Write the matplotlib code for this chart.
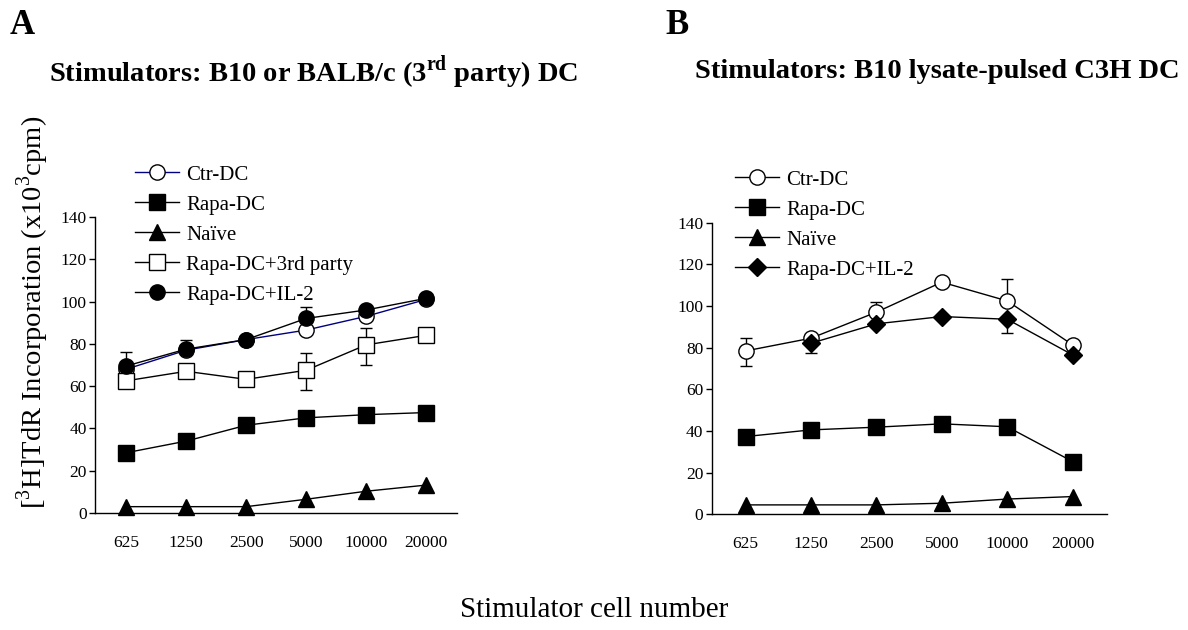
import matplotlib
matplotlib.use('Agg')
import matplotlib.pyplot as plt
import numpy as np

plt.rcParams['font.family'] = ['Liberation Serif', 'DejaVu Serif']
plt.rcParams['mathtext.fontset'] = 'custom'
plt.rcParams['mathtext.rm'] = 'Liberation Serif'
plt.rcParams['mathtext.bf'] = 'Liberation Serif:bold'

cell_numbers = ['625', '1250', '2500', '5000', '10000', '20000']

# panel A: B10 or BALB/c (3rd party) DC
a_ctr = [68, 77, 82, 86.5, 93, 101]
a_rapa = [28.5, 34, 41.5, 45, 46.5, 47.5]
a_naive = [3, 3, 3, 6.5, 10.3, 13.2]
a_third = [62.5, 67, 63.2, 67.5, 79.5, 84]
a_il2 = [69.5, 77.5, 82, 92, 96, 101.5]
# error bars (lower, upper)
a_ctr_err = [[0, 0, 0, 0, 0, 0], [8, 5, 0, 0, 0, 0]]
a_rapa_err = [[0, 0, 0, 3, 0, 0], [0, 0, 0, 0, 0, 0]]
a_third_err = [[0, 0, 0, 9.3, 9.5, 0], [0, 0, 0, 8.3, 8, 0]]
a_il2_err = [[0, 0, 0, 0, 0, 0], [0, 0, 0, 5.6, 0, 0]]

# panel B: B10 lysate-pulsed C3H DC
b_ctr = [78.4, 84.5, 97, 111.4, 102.4, 81.3]
b_rapa = [37.3, 40.5, 41.8, 43.4, 42, 25.3]
b_naive = [4.5, 4.5, 4.5, 5.3, 7.3, 8.5]
b_il2 = [np.nan, 82.1, 91.4, 94.9, 93.6, 76.5]
b_ctr_err = [[7.2, 0, 0, 0, 0, 0], [6.1, 0, 4.8, 0, 10.4, 0]]
b_il2_err = [[0, 4.8, 0, 0, 6.4, 0], [0, 0, 0, 0, 0, 0]]

x = np.arange(len(cell_numbers))

fig = plt.figure(figsize=(11.88, 6.3), dpi=100)
axA = fig.add_axes([0.080, 0.1857, 0.305, 0.470])
axB = fig.add_axes([0.599, 0.1837, 0.3325, 0.4630])

ms = 11
lw = 1.0


def series(ax, y, err, marker, face, label, color='black'):
    if err is not None:
        ax.errorbar(x, y, yerr=err, fmt='none', ecolor='black', elinewidth=lw,
                    capsize=4.5, capthick=lw, zorder=2, clip_on=False)
    ax.plot(x, y, marker=marker, color=color, mfc=face, mec='black', mew=1.0,
            markersize=ms if marker != 'D' else ms * 0.85, linewidth=lw,
            label=label, zorder=3, clip_on=False)


series(axA, a_ctr, a_ctr_err, 'o', 'white', 'Ctr-DC', color='#000080')
series(axA, a_rapa, a_rapa_err, 's', 'black', 'Rapa-DC')
series(axA, a_naive, None, '^', 'black', 'Naïve')
series(axA, a_third, a_third_err, 's', 'white', 'Rapa-DC+3rd party')
series(axA, a_il2, a_il2_err, 'o', 'black', 'Rapa-DC+IL-2')

series(axB, b_ctr, b_ctr_err, 'o', 'white', 'Ctr-DC')
series(axB, b_rapa, None, 's', 'black', 'Rapa-DC')
series(axB, b_naive, None, '^', 'black', 'Naïve')
series(axB, b_il2, b_il2_err, 'D', 'black', 'Rapa-DC+IL-2')

for ax in (axA, axB):
    ax.set_xlim(-0.52, 5.52)
    ax.set_ylim(0, 140)
    ax.set_yticks(np.arange(0, 141, 20))
    ax.set_xticks(x)
    ax.set_xticklabels(cell_numbers)
    ax.spines['top'].set_visible(False)
    ax.spines['right'].set_visible(False)
    ax.spines['left'].set_linewidth(lw)
    ax.spines['bottom'].set_linewidth(lw)
    ax.tick_params(axis='x', length=0, pad=16, labelsize=12.5)
    ax.tick_params(axis='y', length=4, width=lw, pad=2, labelsize=12.5)

legA = axA.legend(loc='upper left', bbox_to_anchor=(135 / 1188, 1 - 165 / 630),
                  bbox_transform=fig.transFigure, frameon=False, fontsize=15,
                  handlelength=2.1, handletextpad=0.35, labelspacing=0.5,
                  borderpad=0, borderaxespad=0)
legB = axB.legend(loc='upper left', bbox_to_anchor=(735 / 1188, 1 - 170 / 630),
                  bbox_transform=fig.transFigure, frameon=False, fontsize=15,
                  handlelength=2.1, handletextpad=0.35, labelspacing=0.5,
                  borderpad=0, borderaxespad=0)

fig.text(10 / 1188, 1 - 26 / 630, 'A', fontsize=25, fontweight='bold', va='center', ha='left')
fig.text(665 / 1188, 1 - 26 / 630, 'B', fontsize=25, fontweight='bold', va='center', ha='left')
fig.text(314 / 1188, 1 - 72 / 630, r'Stimulators: B10 or BALB/c (3$^{\mathbf{rd}}$ party) DC',
         fontsize=20.5, fontweight='bold', ha='center', va='center')
fig.text(937 / 1188, 1 - 72 / 630, 'Stimulators: B10 lysate-pulsed C3H DC',
         fontsize=20.5, fontweight='bold', ha='center', va='center')
fig.text(33 / 1188, 1 - 312 / 630, r'[$^{3}$H]TdR Incorporation (x10$^{3}$cpm)',
         fontsize=20.5, rotation=90, ha='center', va='center')
fig.text(0.5, 1 - 610 / 630, 'Stimulator cell number', fontsize=21, ha='center', va='center')

fig.savefig('out.png', dpi=100)
